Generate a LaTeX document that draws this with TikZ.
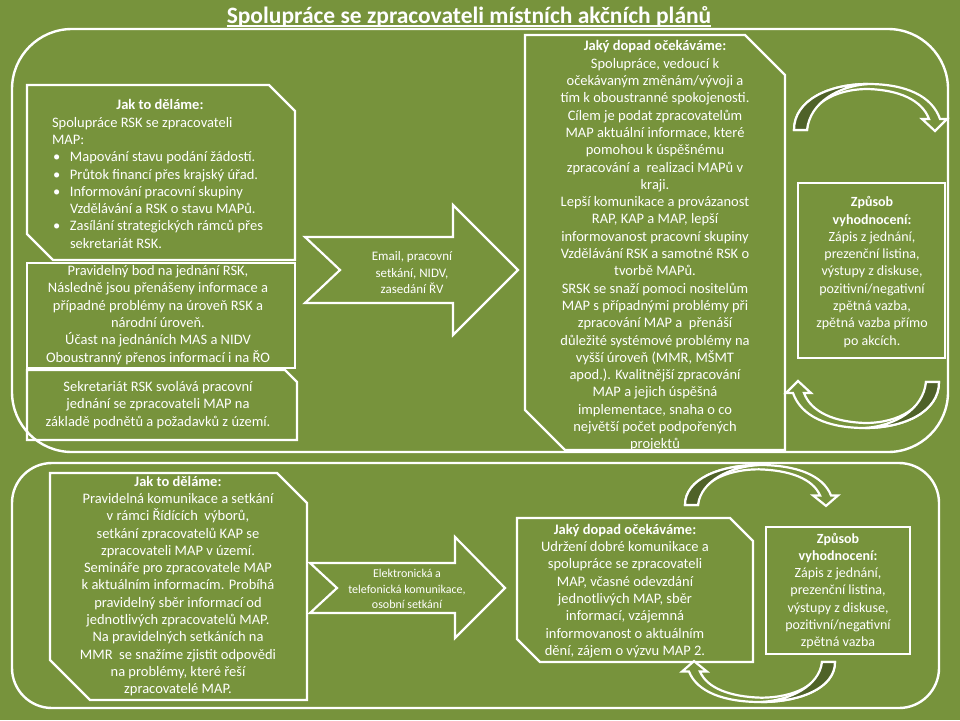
\documentclass[tikz,border=0pt]{standalone}
\usepackage{fontspec}
\setmainfont{Carlito}
\definecolor{bggreen}{HTML}{77933C}
\definecolor{shadegreen}{HTML}{4F6228}
% bullet line with hanging indent
\newcommand\bitem[1]{\par\hangindent=18pt\hangafter=1\noindent\makebox[18pt][l]{\hspace{1pt}\textbullet}#1}
% box with snipped top-right and bottom-left corners
\newcommand\snipbox[6]{%
  \draw[boxline] (#1,#2) -- ({#3-#5},#2) -- (#3,{#2+#5}) -- (#3,#4) --
    ({#1+#6},#4) -- (#1,{#4-#6}) -- cycle;}
% curved feedback arrow, drawn at the origin and placed by scope options
\newcommand\curvarrow[1]{%
  \begin{scope}[#1]
    \filldraw[boxline, fill=bggreen]
      (0,0) .. controls (0,-30) and (35,-46) .. (74,-46)
      .. controls (112,-46) and (138,-34) .. (146,-11) -- (153,-11) -- (141,1)
      -- (128,-11) -- (135,-11) .. controls (128,-30) and (105,-40) .. (74,-41)
      .. controls (40,-41) and (13,-25) .. (13,0) -- cycle;
    \filldraw[boxline, fill=shadegreen]
      (0,0) .. controls (0,-30) and (35,-46) .. (74,-46)
      .. controls (45,-44) and (16,-28) .. (13,0) -- cycle;
  \end{scope}}
\begin{document}
\begin{tikzpicture}[x=1pt, y=-1pt,
    boxline/.style={draw=white, line width=2.2pt, line join=miter},
    frame/.style={draw=white, line width=2.4pt},
    txt/.style={text=white, inner sep=0pt, align=center,
      font=\fontsize{14.5}{17.3}\selectfont},
    evaltxt/.style={txt, font=\fontsize{14}{17.3}\selectfont},
    arrowtxt/.style={text=white, inner sep=0pt, align=center,
      font=\fontsize{13}{16.5}\selectfont}]
  \fill[bggreen] (0,0) rectangle (960,720);
  \useasboundingbox (0,0) rectangle (960,720);

  % Title
  \node[text=white, inner sep=0pt, anchor=base,
    font=\fontsize{23.5}{26}\selectfont\bfseries]
    (title) at (469,23) {Spolupráce se zpracovateli místních akčních plánů};
  \draw[white, line width=1.3pt] ([yshift=-3pt]title.base west) -- ([yshift=-3pt]title.base east);

  % Outer frames
  \draw[frame, rounded corners=60] (12,29) rectangle (948,452);
  \draw[frame, rounded corners=40] (12,463) rectangle (939,708);

  % Upper part: boxes
  \snipbox{27}{85}{295}{260}{26}{26}
  \draw[boxline] (27,263) rectangle (295,368);
  \snipbox{27}{370}{297}{440}{12}{0}
  \snipbox{525}{35}{785}{450}{40}{40}
  \draw[boxline] (798,183) rectangle (945,358);

  % Upper part: block arrow
  \draw[boxline] (305,237) -- (453,237) -- (453,205) -- (518,270) -- (453,335)
    -- (453,303) -- (305,303) -- (340,270) -- cycle;

  % Upper part: curved arrows
  \curvarrow{shift={(794,130)}}
  \curvarrow{shift={(939,382)}, rotate=180}

  % Lower part: boxes
  \snipbox{50}{473}{307}{700}{30}{40}
  \snipbox{517}{518}{753}{662}{23}{23}
  \draw[boxline] (766,527) rectangle (910,654);

  % Lower part: block arrow
  \draw[boxline] (310,563) -- (455,563) -- (455,537) -- (505,588) -- (455,638)
    -- (455,613) -- (310,613) -- (337,588) -- cycle;

  % Lower part: curved arrows
  \curvarrow{shift={(685,505)}, yscale=0.87}
  \curvarrow{shift={(835,662)}, rotate=180, yscale=0.87}

  % Texts, upper part
  \node[txt, text width=236, align=none] (howtop) at (170,174) {%
    {\centering\textbf{Jak to děláme:}\hspace*{20pt}\par}
    \raggedright Spolupráce RSK se zpracovateli\newline MAP:
    \bitem{Mapování stavu podání žádostí.}
    \bitem{Průtok financí přes krajský úřad.}
    \bitem{Informování pracovní skupiny\newline Vzdělávání a RSK o stavu MAPů.}
    \bitem{Zasílání strategických rámců přes\newline sekretariát RSK.}\par};
  \node[txt] (meeting) at (158,315) {Pravidelný bod na jednání RSK,\\
    Následně jsou přenášeny informace a\\případné problémy na úroveň RSK a\\
    národní úroveň.\\Účast na jednáních MAS a NIDV\\
    Oboustranný přenos informací i na ŘO};
  \node[txt] (secret) at (158,405) {Sekretariát RSK svolává pracovní\\
    jednání se zpracovateli MAP na\\základě podnětů a požadavků z území.};
  \node[arrowtxt] (channeltop) at (412,273) {Email, pracovní\\setkání, NIDV,\\zasedání ŘV};
  \node[txt] (impacttop) at (655,246) {\textbf{Jaký dopad očekáváme:}\\
    Spolupráce, vedoucí k\\očekávaným změnám/vývoji a\\tím k oboustranné spokojenosti.\\
    Cílem je podat zpracovatelům\\MAP aktuální informace, které\\pomohou k úspěšnému\\
    zpracování a\ \ realizaci MAPů v\\kraji.\\Lepší komunikace a provázanost\\
    RAP, KAP a MAP, lepší\\informovanost pracovní skupiny\\Vzdělávání RSK a samotné RSK o\\
    tvorbě MAPů.\\SRSK se snaží pomoci nositelům\\MAP s případnými problémy při\\
    zpracování MAP a\ \ přenáší\\důležité systémové problémy na\\vyšší úroveň (MMR, MŠMT\\
    apod.). Kvalitnější zpracování\\MAP a jejich úspěšná\\implementace, snaha o co\\
    největší počet podpořených\\projektů};
  \node[evaltxt] (evaltop) at (872,272) {\textbf{Způsob}\\\textbf{vyhodnocení:}\\
    Zápis z jednání,\\prezenční listina,\\výstupy z diskuse,\\pozitivní/negativní\\
    zpětná vazba,\\zpětná vazba přímo\\po akcích.};

  % Texts, lower part
  \node[txt] (howbot) at (178,586) {\textbf{Jak to děláme:}\\
    Pravidelná komunikace a setkání\\v rámci Řídících\ \ výborů,\\
    setkání zpracovatelů KAP se\\zpracovateli MAP v území.\\
    Semináře pro zpracovatele MAP\\k aktuálním informacím. Probíhá\\
    pravidelný sběr informací od\\jednotlivých zpracovatelů MAP.\\
    Na pravidelných setkáních na\\MMR\ \ se snažíme zjistit odpovědi\\
    na problémy, které řeší\\zpracovatelé MAP.};
  \node[arrowtxt, font=\fontsize{12}{15.5}\selectfont] (channelbot) at (407,589)
    {Elektronická a\\telefonická komunikace,\\osobní setkání};
  \node[txt] (impactbot) at (625,591) {\textbf{Jaký dopad očekáváme:}\\
    Udržení dobré komunikace a\\spolupráce se zpracovateli\\MAP, včasné odevzdání\\
    jednotlivých MAP, sběr\\informací, vzájemná\\informovanost o aktuálním\\
    dění, zájem o výzvu MAP 2.};
  \node[evaltxt] (evalbot) at (838,591) {\textbf{Způsob}\\\textbf{vyhodnocení:}\\
    Zápis z jednání,\\prezenční listina,\\výstupy z diskuse,\\pozitivní/negativní\\
    zpětná vazba};
\end{tikzpicture}
\end{document}
